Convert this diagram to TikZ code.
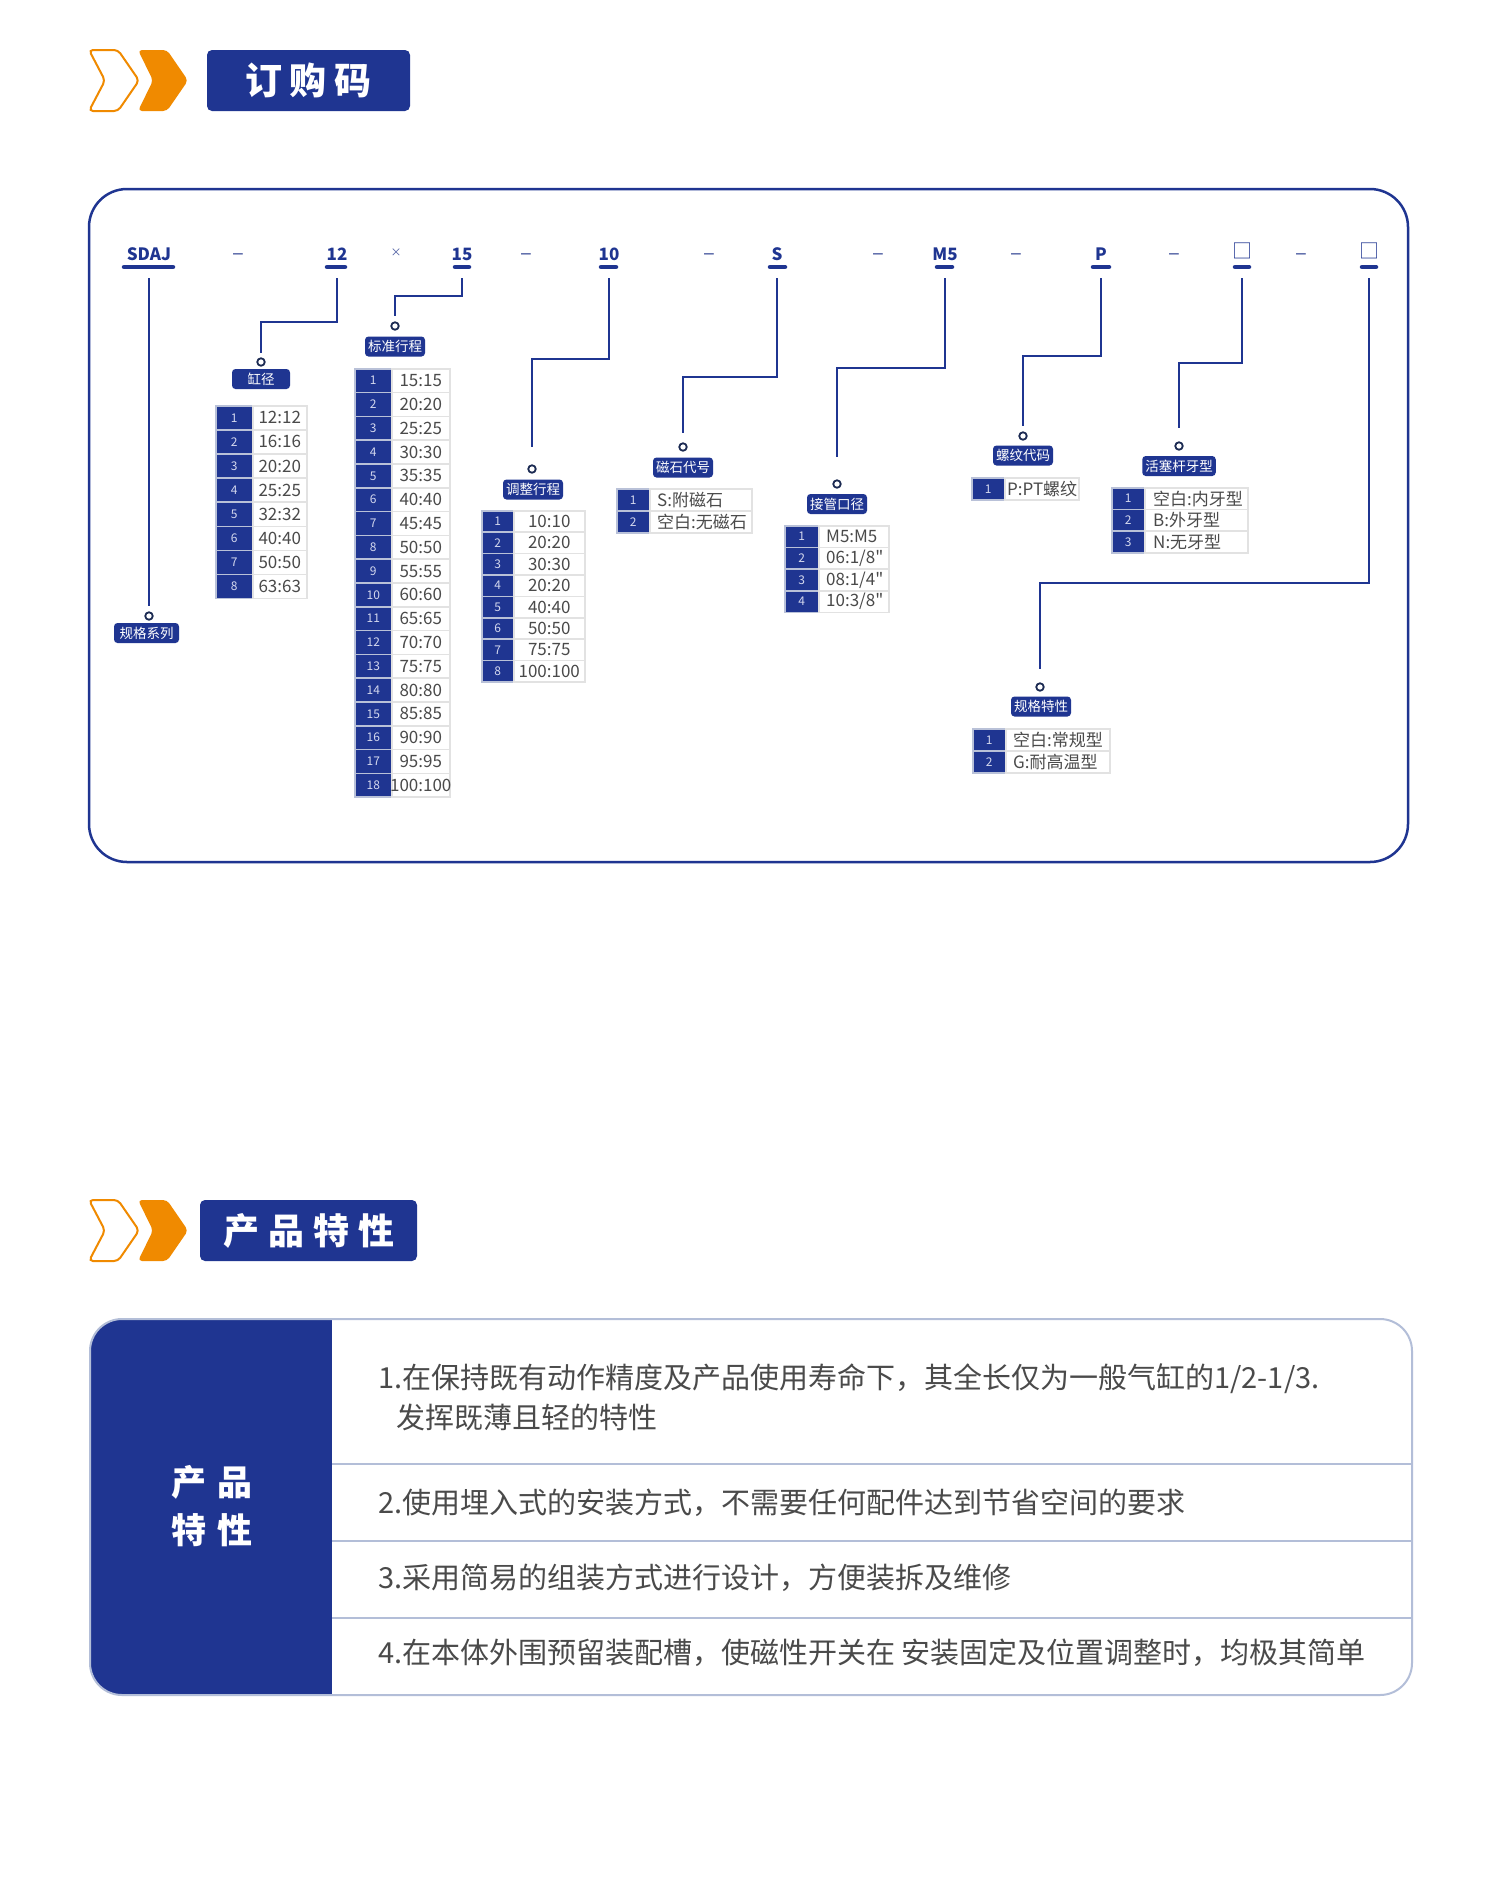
\documentclass[tikz,border=0pt]{standalone}
\usepackage{fontspec}
\setmainfont{Noto Sans CJK SC}[Ligatures=TeXOff]
\usetikzlibrary{calc}
\definecolor{navy}{HTML}{1F3591}
\definecolor{orng}{HTML}{F08A00}
\definecolor{ringc}{HTML}{1B2A52}
\definecolor{numbd}{HTML}{B9C1D8}
\definecolor{valbd}{HTML}{E2E2E2}
\definecolor{txtg}{HTML}{4A4A4A}
\definecolor{numtx}{HTML}{D4D8EE}
\definecolor{tblbd}{HTML}{B3BED8}
\definecolor{sepc}{HTML}{4A5AA0}
\newcommand\opttable[9]{%
  \foreach \v [count=\i] in {#9} {
    \node[numcell, minimum width=#4, minimum height=#6, anchor=north west] (#1-n\i) at (#2, {#3+(\i-1)*#6}) {\i};
    \node[valcell, minimum width=#5, minimum height=#6, anchor=north west] (#1-v\i) at (#2+#4, {#3+(\i-1)*#6}) {};
    \node[valtext, anchor=#7] (#1-t\i) at ([xshift=#8]#1-v\i.#7) {\v};
  }}
\begin{document}
\begin{tikzpicture}[x=1pt,y=-1pt,
  codetxt/.style={font=\bfseries\fontsize{17}{20}\selectfont, text=navy, inner sep=0pt},
  codebar/.style={line width=4.5pt, draw=navy, line cap=round},
  septxt/.style={font=\fontsize{22}{24}\selectfont, text=sepc, inner sep=0pt},
  conn/.style={draw=navy, line width=2pt},
  ring/.style={circle, draw=ringc, line width=1.8pt, minimum size=7.5pt, inner sep=0pt},
  lbl/.style={rectangle, rounded corners=3.5pt, fill=navy, text=white, font=\fontsize{13.5}{16}\selectfont, minimum height=20pt, minimum width=58pt, inner xsep=3pt, inner ysep=0pt},
  numcell/.style={fill=navy, draw=numbd, line width=1.5pt, inner sep=0pt, text=numtx, font=\fontsize{12}{14}\selectfont},
  valcell/.style={fill=white, draw=valbd, line width=1.5pt, inner sep=0pt},
  valtext/.style={text=txtg, font=\fontsize{17}{19}\selectfont, inner sep=0pt},
  hdrtxt/.style={text=white, font=\bfseries\fontsize{37}{40}\selectfont, inner sep=0pt},
  feat/.style={text=txtg, font=\fontsize{29}{40}\selectfont, inner sep=0pt, anchor=west, align=left},
  chevo/.style={draw=orng, line width=2pt, rounded corners=4pt},
  chevf/.style={fill=orng, rounded corners=4pt}
]
\useasboundingbox (0,0) rectangle (1500,1880);
\fill[white] (0,0) rectangle (1500,1880);

% ---------- header 1 ----------
\draw[chevo] (89,50) -- (118,50) -- (139,80.5) -- (118,111) -- (89,111) -- (105,80.5) -- cycle;
\fill[chevf] (138,50) -- (167,50) -- (188,80.5) -- (167,111) -- (138,111) -- (153,80.5) -- cycle;
\node[fill=navy, rounded corners=5pt, minimum width=203pt, minimum height=61pt, inner sep=0pt] (hb1) at (308.5,80.5) {};
\node[hdrtxt] (h1) at (308.5,80.5) {订\hspace{8pt}购\hspace{8pt}码};

% ---------- main frame ----------
\draw[navy, line width=2.5pt, rounded corners=38pt] (89,189) rectangle (1408,862);

% code row
\coordinate (top) at (0,278);
\node[codetxt] (k1) at (149,254) {SDAJ};
\node[codetxt] (k2) at (337,254) {12};
\node[codetxt] (k3) at (462,254) {15};
\node[codetxt] (k4) at (609,254) {10};
\node[codetxt] (k5) at (777,254) {S};
\node[codetxt] (k6) at (945,254) {M5};
\node[codetxt] (k7) at (1101,254) {P};
\node[font=\fontsize{20}{21}\selectfont, text=navy, inner sep=0pt] (k8) at (1242,251) {□};
\node[font=\fontsize{20}{21}\selectfont, text=navy, inner sep=0pt] (k9) at (1369,251) {□};
\foreach \a/\b in {122/175, 325/347, 453/471, 599/618, 768/787, 935/954, 1091/1111, 1233/1251, 1360/1378}
  \draw[codebar] (\a+2,267) -- (\b-2,267);
\node[septxt] (d1) at (238,257) {–};
\node[font=\fontsize{11}{12}\selectfont, text=sepc, inner sep=0pt] (x1) at (396,253) {×};
\node[septxt] (d2) at (526,257) {–};
\node[septxt] (d3) at (709,257) {–};
\node[septxt] (d4) at (878,257) {–};
\node[septxt] (d5) at (1016,257) {–};
\node[septxt] (d6) at (1174,257) {–};
\node[septxt] (d7) at (1301,257) {–};

% rings and labels
\node[ring] (r1) at (149,616) {};
\node[lbl, minimum width=65pt] (l1) at (146.5,633) {规格系列};
\node[ring] (r2) at (261,362) {};
\node[lbl] (l2) at (261,379) {缸径};
\node[ring] (r3) at (395,326) {};
\node[lbl] (l3) at (395,346.5) {标准行程};
\node[ring] (r4) at (532,469) {};
\node[lbl] (l4) at (533,489.5) {调整行程};
\node[ring] (r5) at (683,447) {};
\node[lbl] (l5) at (683,467.5) {磁石代号};
\node[ring] (r6) at (837,484) {};
\node[lbl] (l6) at (837,504) {接管口径};
\node[ring] (r7) at (1023,436) {};
\node[lbl] (l7) at (1023,455.5) {螺纹代码};
\node[ring] (r8) at (1179,446) {};
\node[lbl] (l8) at (1179,466) {活塞杆牙型};
\node[ring] (r9) at (1040,687) {};
\node[lbl] (l9) at (1041,706.5) {规格特性};

% connectors
\draw[conn] (k1 |- top) -- ([yshift=10pt]r1.center);
\draw[conn] (k2 |- top) -- ++(0,44) -| ([yshift=9pt]r2.center);
\draw[conn] (k3 |- top) -- ++(0,18) -| ([yshift=10pt]r3.center);
\draw[conn] (k4 |- top) -- ++(0,81) -| ([yshift=22pt]r4.center);
\draw[conn] (k5 |- top) -- ++(0,99) -| ([yshift=14pt]r5.center);
\draw[conn] (k6 |- top) -- ++(0,90) -| ([yshift=27pt]r6.center);
\draw[conn] (k7 |- top) -- ++(0,78) -| ([yshift=10pt]r7.center);
\draw[conn] (k8 |- top) -- ++(0,85) -| ([yshift=18pt]r8.center);
\draw[conn] (k9 |- top) -- ++(0,305) -| ([yshift=18pt]r9.center);

% tables
\opttable{tA}{215}{405}{37}{54}{24.1}{center}{0pt}{12:12,16:16,20:20,25:25,32:32,40:40,50:50,63:63}
\opttable{tB}{354}{368}{37}{58}{23.8}{center}{0pt}{15:15,20:20,25:25,30:30,35:35,40:40,45:45,50:50,55:55,60:60,65:65,70:70,75:75,80:80,85:85,90:90,95:95,100:100}
\opttable{tC}{481}{510}{32}{71}{21.4}{center}{0pt}{10:10,20:20,30:30,20:20,40:40,50:50,75:75,100:100}
\opttable{tD}{616}{488}{33}{102}{22}{west}{8pt}{S:附磁石,空白:无磁石}
\opttable{tE}{784}{525}{34}{70}{21.7}{west}{8pt}{M5:M5,06:1/8",08:1/4",10:3/8"}
\opttable{tF}{971}{477}{33}{74}{22}{west}{3pt}{P:PT螺纹}
\opttable{tG}{1111}{487}{33}{103}{21.7}{west}{9pt}{空白:内牙型,B:外牙型,N:无牙型}
\opttable{tH}{972}{728}{33}{104}{22}{west}{8pt}{空白:常规型,G:耐高温型}

% ---------- header 2 ----------
\draw[chevo] (89,1200) -- (118,1200) -- (139,1230.5) -- (118,1261) -- (89,1261) -- (105,1230.5) -- cycle;
\fill[chevf] (138,1200) -- (167,1200) -- (188,1230.5) -- (167,1261) -- (138,1261) -- (153,1230.5) -- cycle;
\node[fill=navy, rounded corners=5pt, minimum width=217pt, minimum height=61pt, inner sep=0pt] (hb2) at (308.5,1230.5) {};
\node[hdrtxt, font=\bfseries\fontsize{36}{40}\selectfont] (h2) at (308.5,1230.5) {产\hspace{9pt}品\hspace{9pt}特\hspace{9pt}性};

% ---------- feature table ----------
\begin{scope}
  \clip[rounded corners=32pt] (90,1319) rectangle (1412,1695);
  \fill[navy] (90,1319) rectangle (332,1695);
\end{scope}
\draw[tblbd, line width=2pt, rounded corners=32pt] (90,1319) rectangle (1412,1695);
\foreach \yy in {1464,1541,1618}
  \draw[tblbd, line width=2pt] (332,\yy) -- (1412,\yy);
\node[text=white, font=\bfseries\fontsize{35}{48}\selectfont, align=center, inner sep=0pt] (pf) at (212,1506) {产\hspace{12pt}品\\特\hspace{12pt}性};
\node[feat] (f1) at (378,1397) {1.在保持既有动作精度及产品使用寿命下，其全长仅为一般气缸的1/2-1/3.\\\hspace*{18pt}发挥既薄且轻的特性};
\node[feat] (f2) at (378,1503) {2.使用埋入式的安装方式，不需要任何配件达到节省空间的要求};
\node[feat] (f3) at (378,1578) {3.采用简易的组装方式进行设计，方便装拆及维修};
\node[feat] (f4) at (378,1653) {4.在本体外围预留装配槽，使磁性开关在 安装固定及位置调整时，均极其简单};
\end{tikzpicture}
\end{document}
